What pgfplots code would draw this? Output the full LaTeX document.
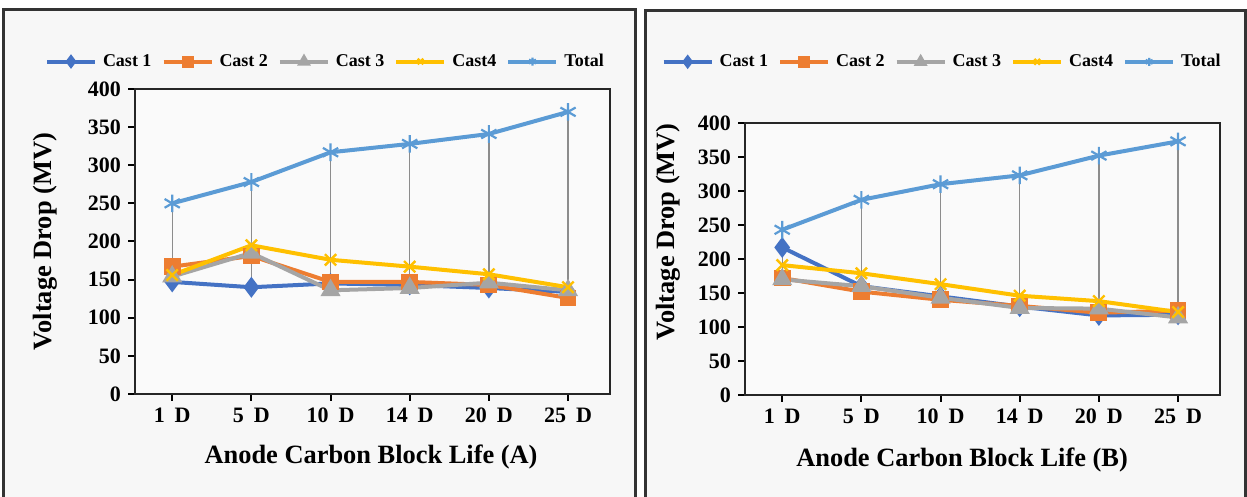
\documentclass[border=0pt]{standalone}
\usepackage{pgfplots}
\pgfplotsset{compat=1.18}
\usepackage{fontspec}
\setmainfont{Liberation Serif}
\definecolor{cA}{HTML}{4472C4}
\definecolor{cB}{HTML}{ED7D31}
\definecolor{cC}{HTML}{A5A5A5}
\definecolor{cD}{HTML}{FFC000}
\definecolor{cT}{HTML}{5B9BD5}
\pgfplotsset{
  myaxis/.style={
    scale only axis, width=237.5pt,
    xmin=-0.47, xmax=5.53, ymin=0, ymax=400,
    xtick={0,1,2,3,4,5},
    xticklabels={1\hspace{0.45em}D,5\hspace{0.45em}D,10\hspace{0.45em}D,14\hspace{0.45em}D,20\hspace{0.45em}D,25\hspace{0.45em}D},
    ytick={0,50,...,400},
    /pgf/number format/assume math mode=true,
    ticklabel style={font=\bfseries\fontsize{11}{13}\selectfont},
    tick pos=left, tick align=outside, major tick length=3.5pt,
    tick style={black, line width=1pt},
    axis line style={black!85, line width=1.4pt},
    axis background/.style={fill=black!2},
    label style={font=\bfseries\fontsize{13.2}{15}\selectfont},
    unbounded coords=jump,
    legend columns=5,
    legend style={draw=none, fill=none, font=\bfseries\fontsize{9}{11}\selectfont,
      anchor=center, inner sep=0pt,
      /tikz/every even column/.append style={column sep=3pt},
      /tikz/every odd column/.append style={column sep=1pt}},
    legend image code/.code={\draw[mark repeat=2,mark phase=2,#1,mark size=2pt]
      plot coordinates {(0pt,0pt) (12pt,0pt) (24pt,0pt)};},
  },
  s1/.style={cA, line width=2pt, mark=diamond*, mark size=3.6pt, mark options={solid, fill=cA}},
  s2/.style={cB, line width=2pt, mark=square*, mark size=3.2pt, mark options={solid, fill=cB}},
  s3/.style={cC, line width=2pt, mark=triangle*, mark size=3.8pt, mark options={solid, fill=cC}},
  s4/.style={cD, line width=2pt, mark=x, mark size=4pt, mark options={solid, line width=1.2pt}},
  s5/.style={cT, line width=2pt, mark=asterisk, mark size=4.4pt, mark options={solid, line width=1.1pt}},
  drop/.style={black!45, line width=0.7pt, forget plot},
}
\begin{document}
\begin{tikzpicture}
% panel frames
\fill[white] (0,0) rectangle (623.5pt,248.5pt);
\filldraw[fill=black!3, draw=black!80, line width=1.5pt] (1.5pt,-5pt) rectangle (317.5pt,243.5pt);
\filldraw[fill=black!3, draw=black!80, line width=1.5pt] (322.5pt,-5pt) rectangle (622.5pt,243pt);

% ---------- left panel ----------
\begin{axis}[myaxis, at={(67.5pt,51.5pt)}, anchor=south west, height=152.5pt,
  xlabel={Anode Carbon Block Life (A)}, ylabel={Voltage Drop (MV)},
  xlabel style={at={(axis description cs:0.497,-0.207)}, anchor=center},
  ylabel style={at={(axis description cs:-0.189,0.5)}, anchor=center},
  legend style={at={(axis description cs:0.403,1.09)}}]
\addplot[s1] coordinates {(0,147) (1,140) (2,145) (3,143) (4,139) (5,134)};
\addlegendentry{Cast 1}
\addplot[s2] coordinates {(0,167) (1,181) (2,147) (3,147) (4,143) (5,126)};
\addlegendentry{Cast 2}
\addplot[s3] coordinates {(0,154) (1,185) (2,136) (3,139) (4,146) (5,136)};
\addlegendentry{Cast 3}
\addplot[s4] coordinates {(0,156) (1,195) (2,176) (3,167) (4,157) (5,140)};
\addlegendentry{Cast4}
\addplot[s5] coordinates {(0,250) (1,278) (2,317) (3,328) (4,341) (5,370)};
\addlegendentry{Total}
\addplot[drop] coordinates {(0,147) (0,250) (0.5,nan) (1,140) (1,278) (1.5,nan)
  (2,136) (2,317) (2.5,nan) (3,139) (3,328) (3.5,nan) (4,139) (4,341) (4.5,nan) (5,126) (5,370)};
\end{axis}

% ---------- right panel ----------
\begin{axis}[myaxis, at={(372.5pt,51pt)}, anchor=south west, height=136pt,
  xlabel={Anode Carbon Block Life (B)}, ylabel={Voltage Drop (MV)},
  xlabel style={at={(axis description cs:0.457,-0.239)}, anchor=center},
  ylabel style={at={(axis description cs:-0.162,0.6)}, anchor=center},
  legend style={at={(axis description cs:0.417,1.225)}}]
\addplot[s1] coordinates {(0,217) (1,160) (2,145) (3,130) (4,117) (5,118)};
\addlegendentry{Cast 1}
\addplot[s2] coordinates {(0,172) (1,152) (2,140) (3,131) (4,121) (5,124)};
\addlegendentry{Cast 2}
\addplot[s3] coordinates {(0,170) (1,160) (2,143) (3,128) (4,127) (5,114)};
\addlegendentry{Cast 3}
\addplot[s4] coordinates {(0,191) (1,179) (2,163) (3,146) (4,138) (5,122)};
\addlegendentry{Cast4}
\addplot[s5] coordinates {(0,243) (1,287) (2,310) (3,323) (4,352) (5,373)};
\addlegendentry{Total}
\addplot[drop] coordinates {(0,170) (0,243) (0.5,nan) (1,152) (1,287) (1.5,nan)
  (2,140) (2,310) (2.5,nan) (3,128) (3,323) (3.5,nan) (4,117) (4,352) (4.5,nan) (5,114) (5,373)};
\end{axis}
\pgfresetboundingbox
\useasboundingbox (0,0) rectangle (623.5pt,248.5pt);
\end{tikzpicture}
\end{document}
